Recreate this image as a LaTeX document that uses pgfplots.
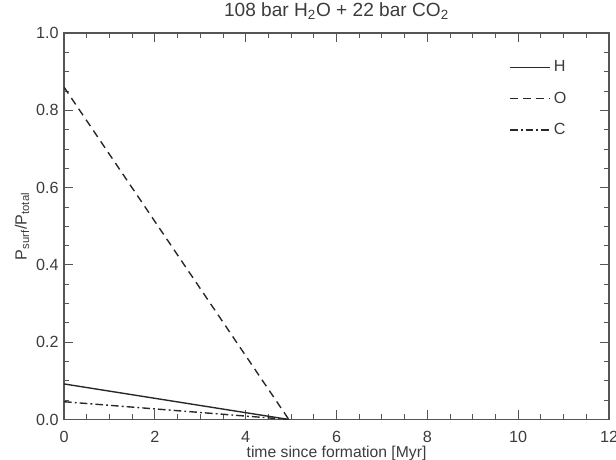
\documentclass[border=0pt]{standalone}
\usepackage{fontspec}
\setmainfont{Liberation Sans}
\usepackage{pgfplots}
\pgfplotsset{compat=1.18}
\definecolor{axgray}{RGB}{85,85,85}
\definecolor{txtgray}{RGB}{60,60,60}
\definecolor{lngray}{RGB}{40,40,40}
\begin{document}
\begin{tikzpicture}
\begin{axis}[
  name=ax,
  scale only axis,
  width=354pt, height=251pt,
  xmin=0, xmax=12, ymin=0, ymax=1.0,
  xtick={0,2,4,6,8,10,12},
  ytick={0,0.2,0.4,0.6,0.8,1.0},
  minor x tick num=3,
  minor y tick num=3,
  tick align=inside,
  xtick pos=both, ytick pos=both,
  major tick length=6pt,
  minor tick length=3.5pt,
  axis line style={axgray, line width=0.8pt},
  every tick/.style={axgray, line width=0.6pt},
  tick label style={font=\fontsize{10.5}{12}\selectfont, text=txtgray},
  /pgf/number format/assume math mode=true,
  yticklabel style={/pgf/number format/fixed, /pgf/number format/fixed zerofill, /pgf/number format/precision=1},
  xticklabel style={/pgf/number format/fixed, yshift=-4pt},
  title={108 bar H\textsubscript{2}O + 22 bar CO\textsubscript{2}},
  title style={font=\fontsize{12.4}{14}\selectfont, text=txtgray, at={(0.5,1)}, anchor=base, yshift=5pt},
  xlabel={time since formation [Myr]},
  xlabel style={font=\fontsize{10.2}{12}\selectfont, text=txtgray, at={(0.5,0)}, anchor=center, yshift=-22pt},
  ylabel={P\textsubscript{surf}/P\textsubscript{total}},
  ylabel style={font=\fontsize{10.5}{12}\selectfont, text=txtgray, at={(-0.0771,0.5)}, anchor=center},
  legend style={draw=none, fill=none, at={(0.808,0.945)}, anchor=north west,
    font=\fontsize{10.5}{12}\selectfont, text=txtgray, row sep=7.5pt},
  legend cell align=left,
  legend image code/.code={\draw[#1] (0pt,0pt) -- (26pt,0pt);},
]
\addplot[lngray, line width=0.9pt] coordinates {(0,0.092) (4.95,0.0)};
\addlegendentry{H}
\addplot[lngray, line width=0.9pt, dash pattern=on 5pt off 3.5pt] coordinates {(0,0.86) (4.95,0.0)};
\addlegendentry{O}
\addplot[lngray, line width=0.9pt, dash pattern=on 5pt off 2pt on 1.2pt off 2pt] coordinates {(0,0.046) (4.95,0.0)};
\addlegendentry{C}
\end{axis}
\pgfresetboundingbox
\useasboundingbox ([shift={(-41.6pt,-26pt)}]ax.south west) rectangle ([shift={(4.55pt,21.5pt)}]ax.north east);
\end{tikzpicture}
\end{document}
